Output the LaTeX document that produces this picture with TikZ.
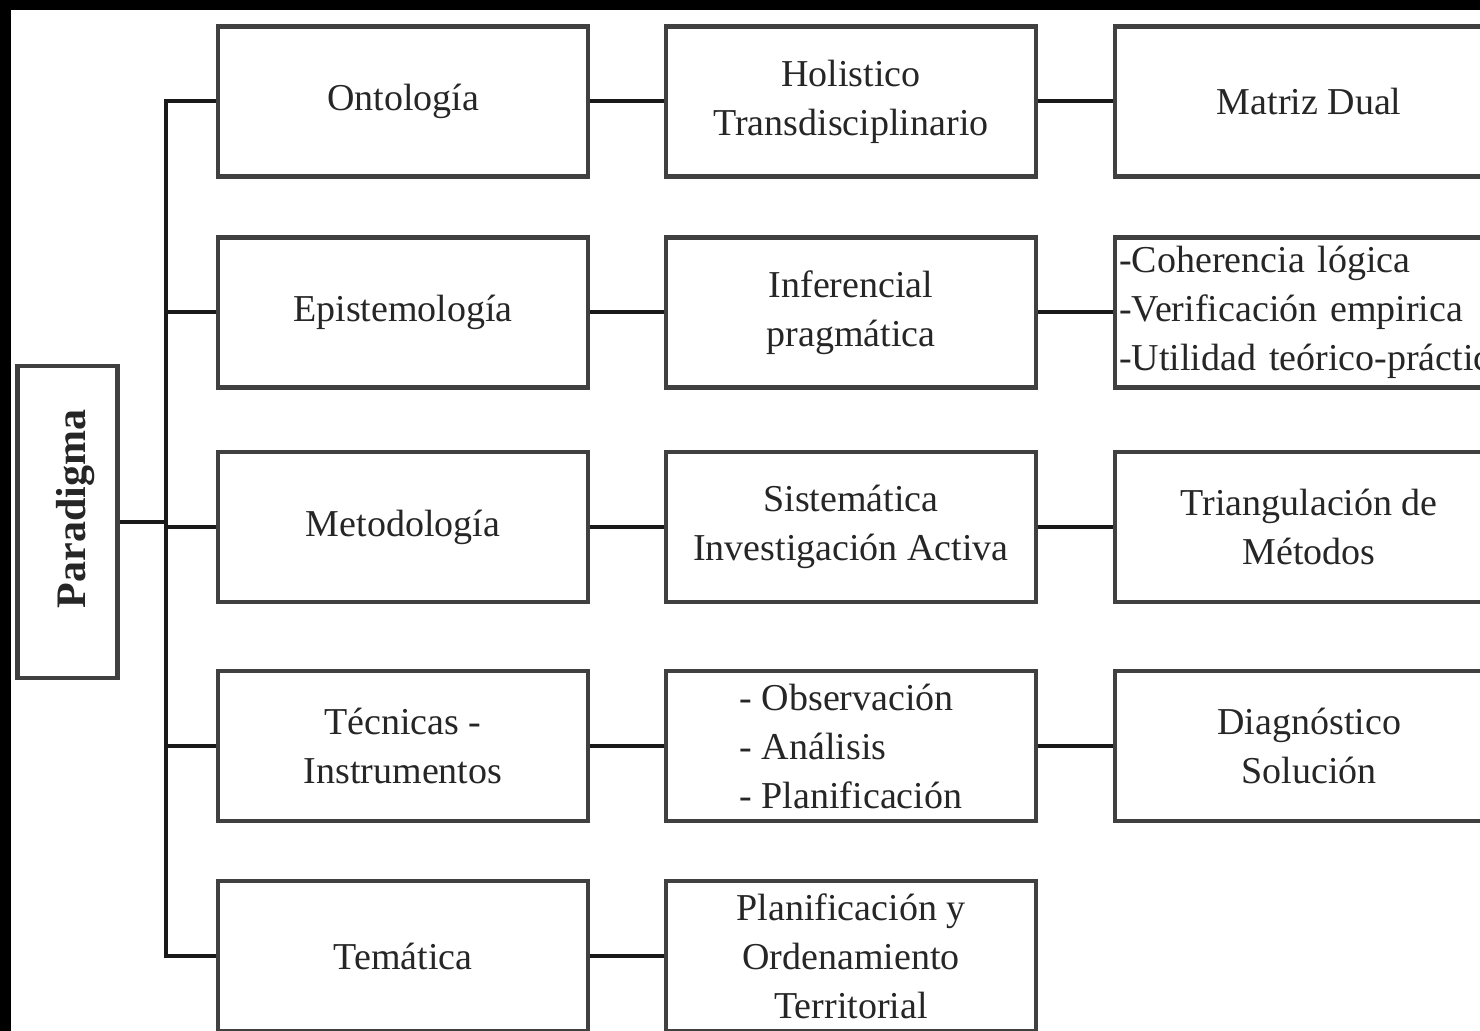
\documentclass[tikz,border=0pt]{standalone}
\usepackage{fontspec}
\setmainfont{Liberation Serif}
\tikzset{
  box/.style={draw=black!75, line width=2.2pt, fill=white, minimum width=185pt,
    minimum height=75pt, inner sep=2pt, align=center, text=black!85,
    font=\fontsize{19}{24.5}\selectfont},
  link/.style={draw=black!90, line width=2pt}
}
\begin{document}
\begin{tikzpicture}[x=0.5pt, y=-0.5pt]
        \useasboundingbox (0,0) rectangle (1480,1031);
        \clip (0,0) rectangle (1480,1031);

        % Draw page frame
        \fill[black] (0,0) rectangle (1480,1031);
        \fill[white] (11,10) rectangle (1480,1031);

        % Draw root
        \node[box, rotate=90, minimum width=156pt, minimum height=50pt, text height=22pt, text depth=4.5pt,
          font=\bfseries\fontsize{21}{24}\selectfont] (paradigma) at (67.5,522) {\hspace*{13pt}Paradigma};

        % Draw first column
        \node[box] (onto) at (403,101.5) {Ontología};
        \node[box] (episte) at (403,312.5) {Epistemología};
        \node[box] (metodo) at (403,527) {Metodología};
        \node[box] (tecnicas) at (403,746) {Técnicas -\\Instrumentos};
        \node[box] (tematica) at (403,956) {Temática};

        % Draw second column
        \node[box] (holis) at (851,101.5) {Holistico\\Transdisciplinario};
        \node[box] (infer) at (851,312.5) {Inferencial\\pragmática};
        \node[box] (sistem) at (851,527) {Sistemática\\Investigación Activa};
        \node[box, align=left] (observ) at (851,746) {- Observación\\- Análisis\\- Planificación};
        \node[box] (planif) at (851,956) {Planificación y\\Ordenamiento\\Territorial};

        % Draw third column
        \node[box, anchor=west, minimum width=194pt] (matriz) at (1113,101.5) {Matriz Dual};
        \node[box, anchor=west, text width=230pt, align=left] (coher) at (1113,312.5)
          {-Coherencia lógica\\-Verificación empirica\\-Utilidad teórico-práctica};
        \node[box, anchor=west, minimum width=194pt] (triang) at (1113,527) {Triangulación de\\Métodos};
        \node[box, anchor=west, minimum width=194pt] (diagn) at (1113,746) {Diagnóstico\\Solución};

        % Draw trunk
        \coordinate (trunk) at (166,0);
        \draw[link] (onto.west) -| (trunk |- tematica.west) -- (tematica.west);
        \foreach \n in {episte, metodo, tecnicas}
          \draw[link] (\n.west) -- (\n.west -| trunk);
        \draw[link] (paradigma.south) -- (paradigma.south -| trunk);

        % Draw row links
        \draw[link] (onto.east) -- (holis.west);
        \draw[link] (episte.east) -- (infer.west);
        \draw[link] (metodo.east) -- (sistem.west);
        \draw[link] (tecnicas.east) -- (observ.west);
        \draw[link] (tematica.east) -- (planif.west);
        \draw[link] (holis.east) -- (matriz.west);
        \draw[link] (infer.east) -- (coher.west);
        \draw[link] (sistem.east) -- (triang.west);
        \draw[link] (observ.east) -- (diagn.west);
      \end{tikzpicture}
\end{document}
